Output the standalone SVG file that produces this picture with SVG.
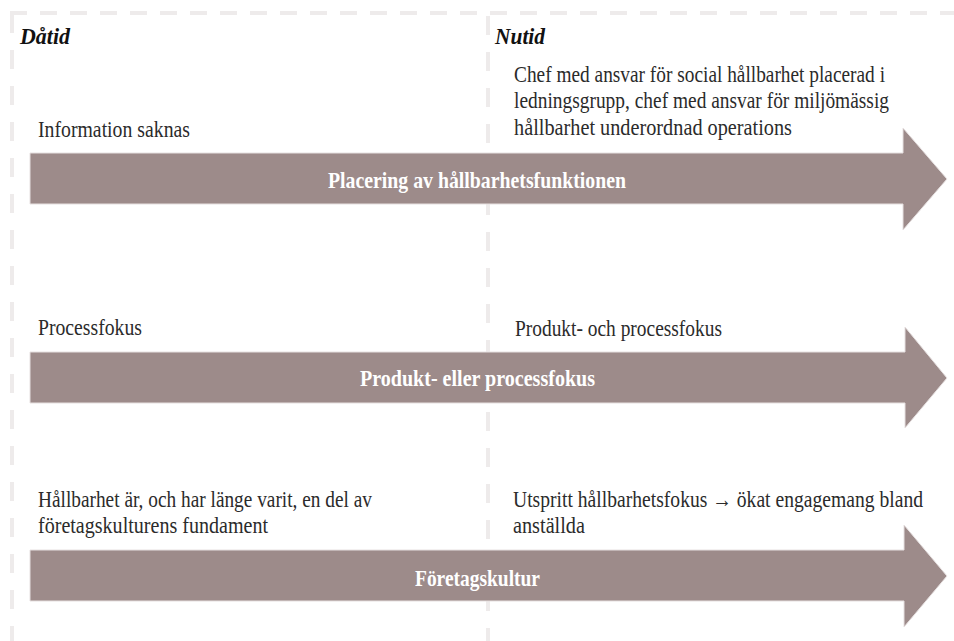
<svg xmlns="http://www.w3.org/2000/svg" width="954" height="641" viewBox="0 0 954 641">
<style>
.dash{stroke:#EEEBEB;stroke-width:4;fill:none}
.arrow{fill:#9D8B8A;stroke:#E6E0E0;stroke-width:1}
.t{font-family:"Liberation Serif","DejaVu Serif",serif;font-size:22.5px;fill:#2B2B2B}
.h{font-family:"Liberation Serif","DejaVu Serif",serif;font-size:24px;font-weight:bold;font-style:italic;fill:#111}
.w{font-family:"Liberation Serif","DejaVu Serif",serif;font-size:23.5px;font-weight:bold;fill:#FFFFFF}
</style>
<rect width="954" height="641" fill="#FFFFFF"/>
<g id="frame">
<line class="dash" x1="10" y1="13" x2="954" y2="13" stroke-dasharray="17 13"/>
<line class="dash" x1="12" y1="14" x2="12" y2="641" stroke-dasharray="19 17"/>
<line class="dash" x1="488" y1="16" x2="488" y2="641" stroke-dasharray="19 17"/>
</g>
<g id="headers">
<text class="h" x="20" y="44" textLength="50" lengthAdjust="spacingAndGlyphs">Dåtid</text>
<text class="h" x="495" y="44" textLength="50" lengthAdjust="spacingAndGlyphs">Nutid</text>
</g>
<g id="arrow-placering">
<polygon class="arrow" points="30,153 903,153 903,128 947,179 903,230 903,204 30,204"/>
<text class="w" x="328" y="188" textLength="298" lengthAdjust="spacingAndGlyphs">Placering av hållbarhetsfunktionen</text>
</g>
<g id="arrow-produkt">
<polygon class="arrow" points="30,352 905,352 905,327 947,378 905,428 905,403 30,403"/>
<text class="w" x="360" y="386" textLength="235" lengthAdjust="spacingAndGlyphs">Produkt- eller processfokus</text>
</g>
<g id="arrow-kultur">
<polygon class="arrow" points="30,550 904,550 904,525 947,576 904,627 904,601 30,601"/>
<text class="w" x="415" y="586" textLength="125" lengthAdjust="spacingAndGlyphs">Företagskultur</text>
</g>
<g id="past-texts">
<text class="t" x="38" y="137" textLength="152" lengthAdjust="spacingAndGlyphs">Information saknas</text>
<text class="t" x="38" y="335" textLength="104" lengthAdjust="spacingAndGlyphs">Processfokus</text>
<text class="t" x="38" y="507" textLength="334" lengthAdjust="spacingAndGlyphs">Hållbarhet är, och har länge varit, en del av</text>
<text class="t" x="38" y="533" textLength="230" lengthAdjust="spacingAndGlyphs">företagskulturens fundament</text>
</g>
<g id="present-texts">
<text class="t" x="514" y="82" textLength="371" lengthAdjust="spacingAndGlyphs">Chef med ansvar för social hållbarhet placerad i</text>
<text class="t" x="514" y="108" textLength="375" lengthAdjust="spacingAndGlyphs">ledningsgrupp, chef med ansvar för miljömässig</text>
<text class="t" x="514" y="135" textLength="278" lengthAdjust="spacingAndGlyphs">hållbarhet underordnad operations</text>
<text class="t" x="515" y="336" textLength="207" lengthAdjust="spacingAndGlyphs">Produkt- och processfokus</text>
<text class="t" x="513" y="507" font-size="21.5" textLength="410" lengthAdjust="spacingAndGlyphs">Utspritt hållbarhetsfokus → ökat engagemang bland</text>
<text class="t" x="513" y="533" textLength="72" lengthAdjust="spacingAndGlyphs">anställda</text>
</g>
</svg>
